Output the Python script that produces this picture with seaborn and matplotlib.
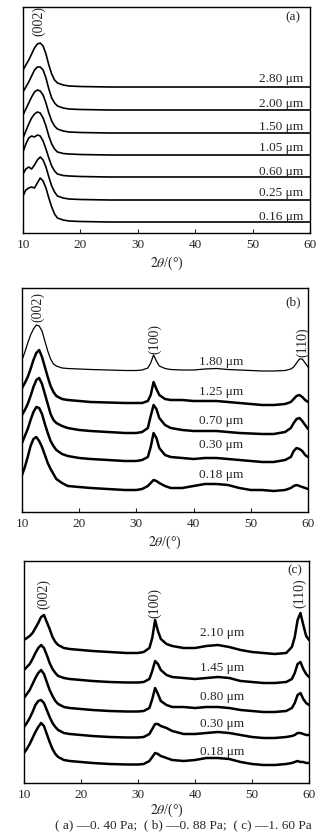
import numpy as np
import pandas as pd
import matplotlib
matplotlib.use("Agg")
import matplotlib.pyplot as plt
import seaborn as sns

# ---------------------------------------------------------------- data
# Diffraction angle grids (2θ, degrees)
angles_a = [10, 10.5, 11, 11.5, 12, 12.5, 13, 13.5, 14, 14.5, 15, 15.5, 16,
            17, 18, 20, 25, 30, 40, 50, 60]
angles_bc = [10, 10.5, 11, 11.5, 12, 12.5, 13, 13.5, 14, 14.5, 15, 15.5, 16,
             17, 18, 20, 22, 25, 28, 30, 31, 32, 32.5, 33, 33.5, 34, 35, 36,
             38, 40, 42, 44, 46, 48, 50, 52, 54, 56, 57, 57.5, 58, 58.5, 59,
             59.5, 60]

# (a) -0.40 Pa : film thickness, stacking offset, intensity above offset
labels_a = ["2.80 μm", "2.00 μm", "1.50 μm", "1.05 μm", "0.60 μm", "0.25 μm", "0.16 μm"]
offsets_a = [146, 123, 100, 78, 56, 33, 11]
a_280 = [17, 22, 27, 33, 39, 43, 44, 41, 33, 22, 13, 7, 4, 2, 1, 0.5, 0, 0, 0, 0, 0]
a_200 = [18, 23, 28, 34, 40, 43, 43, 40, 32, 21, 12, 7, 4, 2, 1, 0.5, 0, 0, 0, 0, 0]
a_150 = [18, 24, 30, 36, 41, 43, 42, 38, 30, 20, 12, 7, 4, 2, 1, 0.5, 0, 0, 0, 0, 0]
a_105 = [17, 24, 31, 37, 41, 43, 42, 37, 29, 19, 11, 6, 3, 1.5, 1, 0.5, 0, 0, 0, 0, 0]
a_060 = [25, 33, 39, 41, 40, 42, 41, 36, 28, 19, 11, 6, 3, 1.5, 1, 0.5, 0, 0, 0, 0, 0]
a_025 = [26, 31, 33, 31, 35, 40, 43, 40, 33, 23, 14, 8, 4, 2, 1, 0.5, 0, 0, 0, 0, 0]
a_016 = [26, 32, 34, 35, 34, 39, 44, 41, 34, 24, 15, 8, 4, 2, 1, 0.5, 0, 0, 0, 0, 0]
curves_a = [a_280, a_200, a_150, a_105, a_060, a_025, a_016]

# (b) -0.88 Pa
labels_b = ["1.80 μm", "1.25 μm", "0.70 μm", "0.30 μm", "0.18 μm"]
offsets_b = [141, 107, 78, 50, 21]
b_180 = [11, 19, 28, 36, 42, 46, 45, 40, 30, 20, 12, 7, 5, 3, 2.5, 2, 1.5, 1, 0.5,
         0.5, 1, 3, 8, 16, 10, 5, 2.5, 1.5, 1, 1, 2, 2.5, 1.5, 1, 0.5, 0, 0, 0.5,
         2, 4, 8, 12, 12, 8, 4]
b_125 = [17, 22, 28, 36, 45, 52, 55, 48, 38, 28, 19, 13, 9, 6, 5, 4, 3, 2.5, 2,
         2, 2, 4, 10, 23, 16, 10, 6, 5, 5, 4, 4, 4, 3, 2, 1, 0, 0, 1,
         3, 6, 9, 10, 8, 5, 3]
b_070 = [19, 24, 30, 38, 47, 54, 56, 50, 40, 30, 20, 14, 11, 8, 6, 4, 3, 2, 1,
         1, 2, 6, 18, 29, 25, 16, 9, 6, 4, 3, 3, 3, 2, 1, 0.5, 0, 0, 2,
         6, 11, 15, 16, 13, 9, 5]
b_030 = [19, 26, 33, 42, 50, 55, 54, 48, 38, 29, 21, 16, 12, 8, 6, 4, 3, 2, 1,
         1, 2, 5, 15, 29, 24, 14, 7, 5, 4, 3, 4, 4, 3, 2, 1, 0, 0, 2,
         5, 11, 14, 13, 11, 7, 5]
b_018 = [16, 24, 34, 45, 52, 54, 50, 44, 36, 28, 22, 17, 12, 8, 5, 4, 3, 2, 1,
         1, 2, 5, 8, 11, 10, 8, 5, 3, 3, 5, 7, 7, 6, 3, 1, 1, 0, 1,
         3, 5, 6, 5, 4, 3, 2]
curves_b = [b_180, b_125, b_070, b_030, b_018]

# (c) -1.60 Pa
labels_c = ["2.10 μm", "1.45 μm", "0.80 μm", "0.30 μm", "0.18 μm"]
offsets_c = [130, 100, 71, 45, 18]
c_210 = [13, 15, 17, 20, 25, 30, 36, 38, 31, 24, 16, 11, 8, 5, 4, 3, 2, 1, 0,
         0, 1, 5, 15, 33, 22, 14, 9, 7, 5, 5, 7, 8, 6, 3, 1, 0, -1, 0,
         6, 16, 33, 40, 28, 17, 13]
c_145 = [13, 16, 19, 24, 30, 35, 38, 35, 28, 20, 14, 10, 7, 5, 4, 3, 2, 1, 0.5,
         0.5, 1, 4, 12, 22, 19, 13, 8, 6, 5, 4, 5, 6, 5, 2, 1, 0, 0, 1,
         4, 10, 19, 21, 14, 9, 6]
c_080 = [14, 18, 22, 28, 34, 39, 42, 38, 30, 22, 16, 11, 8, 5, 4, 3, 2, 1, 0.5,
         0.5, 1, 4, 13, 24, 18, 11, 7, 5, 5, 4, 5, 5, 4, 2, 1, 0, 0, 1,
         4, 9, 17, 19, 13, 9, 7]
c_030 = [11, 15, 20, 26, 33, 37, 38, 35, 28, 21, 15, 11, 8, 5, 4, 3, 2, 1, 0.5,
         0.5, 1, 4, 9, 14, 14, 12, 10, 7, 4, 4, 5, 6, 5, 3, 1, 0, 0, 1,
         2, 3, 5, 5, 4, 3, 3]
c_018 = [12, 16, 21, 27, 33, 38, 42, 39, 31, 23, 16, 11, 8, 5, 4, 3, 2, 1, 0.5,
         0.5, 1, 4, 8, 12, 11, 9, 7, 5, 4, 5, 7, 7, 6, 3, 1, 0, 0, 1,
         2, 3, 4, 3, 3, 2, 2]
curves_c = [c_210, c_145, c_080, c_030, c_018]

# Reflection annotations: (hkl, 2θ, height)
peaks_a = [("(002)", 12.8, 212)]
peaks_b = [("(002)", 12.8, 205), ("(100)", 33.2, 173), ("(110)", 59.0, 170)]
peaks_c = [("(002)", 13.5, 189), ("(100)", 33.0, 180), ("(110)", 58.4, 190)]

caption = "( a) —0. 40 Pa;  ( b) —0. 88 Pa;  ( c) —1. 60 Pa"

# ---------------------------------------------------------------- style
sns.set_style("ticks")
plt.rcParams["font.family"] = ["Liberation Serif", "DejaVu Serif"]
plt.rcParams["mathtext.fontset"] = "stix"

W, H = 325, 833
fig = plt.figure(figsize=(W / 100, H / 100), dpi=100)


def px_axes(left, top, right, bottom):
    return fig.add_axes([left / W, 1 - bottom / H, (right - left) / W, (bottom - top) / H])


def draw_panel(ax, angles, curves, offsets, labels, label_x, label_y, label_ha,
               peaks, tag, tag_xy, height, widths, xlabel_pad):
    rows = []
    for name, vals, off in zip(labels, curves, offsets):
        for x, v in zip(angles, vals):
            rows.append({"angle": x, "counts": off + v, "film": name})
    df = pd.DataFrame(rows)
    for name, lw in zip(labels, widths):
        sub = df[df["film"] == name]
        sns.lineplot(data=sub, x="angle", y="counts", ax=ax, color="black",
                     lw=lw, estimator=None, sort=False, legend=False)
    for name, y in zip(labels, label_y):
        ax.text(label_x, y, name, fontsize=9.5, ha=label_ha, va="center")
    for hkl, x, y in peaks:
        ax.text(x, y, hkl, fontsize=10, rotation=90, ha="center", va="center")
    ax.text(tag_xy[0], tag_xy[1], tag, fontsize=9.5, ha="center", va="center",
            transform=ax.transAxes)
    ax.set_xlim(10, 60)
    ax.set_ylim(0, height)
    ax.set_xticks([10, 20, 30, 40, 50, 60])
    ax.set_yticks([])
    ax.tick_params(axis="x", direction="in", length=3, width=0.8, pad=4,
                   labelsize=9.5)
    for s in ax.spines.values():
        s.set_visible(True)
        s.set_linewidth(1.0)
        s.set_color("black")
    ax.set_ylabel("")
    ax.set_xlabel(r"$2\theta$/(°)", fontsize=10, labelpad=xlabel_pad)


ax_a = px_axes(23, 7, 310, 233)
draw_panel(ax_a, angles_a, curves_a, offsets_a, labels_a, 58.8,
           [154, 129, 106, 85, 61, 40, 16], "right", peaks_a, "(a)",
           (0.94, 0.956), 226, [1.2] * 7, 3)

ax_b = px_axes(22, 288, 308, 512)
draw_panel(ax_b, angles_bc, curves_b, offsets_b, labels_b, 40.9,
           [150, 120, 91, 67, 37], "left", peaks_b, "(b)",
           (0.948, 0.9375), 224, [0.9, 1.8, 1.8, 1.8, 1.8], 3)

ax_c = px_axes(24, 561, 309, 783)
draw_panel(ax_c, angles_bc, curves_c, offsets_c, labels_c, 40.8,
           [150, 115, 86, 59, 31], "left", peaks_c, "(c)",
           (0.951, 0.959), 222, [1.8] * 5, 1)

fig.text(312 / W, 1 - 825 / H, caption, fontsize=9.5, ha="right", va="center")

fig.savefig("out.png", dpi=100, facecolor="white")
